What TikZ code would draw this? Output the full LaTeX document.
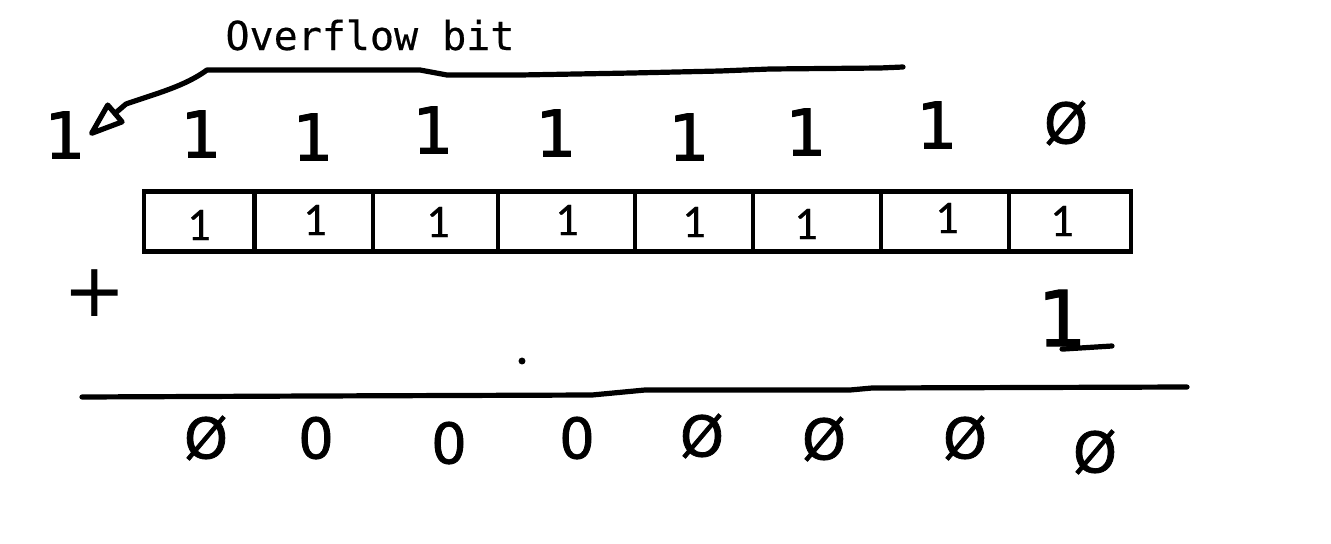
\documentclass[tikz,border=0pt]{standalone}
\usepackage{fontspec}
\setmainfont{DejaVu Sans}
\newfontfamily\handfont[FakeBold=1.4]{DejaVu Sans}
\newfontfamily\plusfont{DejaVu Sans}
\newfontfamily\boxfont[FakeBold=0.4]{Carlito}
\newfontfamily\ovmono[FakeBold=0.4]{DejaVu Sans Mono}
\usetikzlibrary{arrows.meta}
\begin{document}
\begin{tikzpicture}[x=0.75pt,y=-0.75pt,
  pen/.style={line width=3.9pt, line cap=round, line join=round},
  hone/.style={inner sep=0pt, font=\handfont\fontsize{48pt}{48pt}\selectfont},
  hzero/.style={inner sep=0pt, font=\handfont\fontsize{42pt}{42pt}\selectfont},
  cell/.style={draw, line width=3.3pt, minimum height=45pt, inner sep=0pt},
  bnum/.style={inner sep=0pt, font=\boxfont\fontsize{35pt}{35pt}\selectfont},
  label/.style={inner sep=0pt, font=\ovmono\fontsize{30pt}{30pt}\selectfont}]
\fill[white] (0,0) rectangle (1331,543);
\useasboundingbox (0,0) rectangle (1331,543);

% label
\node[label, anchor=base] (ovtxt) at (370,50) {Overflow bit};

% carry row
\node[hone] (t0) at (65,135) {1};
\node[hone] (t1) at (201,134) {1};
\node[hone] (t2) at (313,137) {1};
\node[hone] (t3) at (433,130) {1};
\node[hone] (t4) at (556,133) {1};
\node[hone] (t5) at (689,137) {1};
\node[hone] (t6) at (806,132) {1};
\node[hone] (t7) at (937,125) {1};
\node[hzero] (t8) at (1066,123) {Ø};

% register cells
\node[cell, minimum width=82.9pt] (c1) at (199.25,221.5) {};
\node[cell, minimum width=88.9pt] (c2) at (313.75,221.5) {};
\node[cell, minimum width=93.75pt] (c3) at (435.5,221.5) {};
\node[cell, minimum width=102.75pt] (c4) at (566.5,221.5) {};
\node[cell, minimum width=88.5pt] (c5) at (694,221.5) {};
\node[cell, minimum width=96pt] (c6) at (817,221.5) {};
\node[cell, minimum width=96pt] (c7) at (945,221.5) {};
\node[cell, minimum width=91.5pt] (c8) at (1070,221.5) {};

\node[bnum] (n1) at (199,225) {1};
\node[bnum] (n2) at (315,220) {1};
\node[bnum] (n3) at (438,222) {1};
\node[bnum] (n4) at (567,220) {1};
\node[bnum] (n5) at (694,222) {1};
\node[bnum] (n6) at (806,224) {1};
\node[bnum] (n7) at (947,218) {1};
\node[bnum] (n8) at (1062,221) {1};

% plus and addend
\node[inner sep=0pt, font=\plusfont\fontsize{56pt}{56pt}\selectfont] (plus) at (95,293) {+};
\node[inner sep=0pt, font=\handfont\fontsize{58pt}{58pt}\selectfont] (a1) at (1062,318) {1};
\coordinate (ulEnd) at (1112,346);
\draw[pen] ([yshift=-2pt]a1.south) -- (ulEnd);

% stray dot
\fill (522,361) circle[radius=2.6pt];

% sum line
\coordinate (s0) at (82,397);
\coordinate (s1) at (313,396);
\coordinate (s2) at (592,395);
\coordinate (s3) at (645,390);
\coordinate (s4) at (850,390);
\coordinate (s5) at (872,388);
\coordinate (s6) at (1187,387);
\draw[pen] (s0) -- (s1) -- (s2) -- (s3) -- (s4) -- (s5) -- (s6);

% result row
\node[hzero] (r1) at (206,438) {Ø};
\node[hzero] (r2) at (316,438) {0};
\node[hzero] (r3) at (449,443) {0};
\node[hzero] (r4) at (577,438) {0};
\node[hzero] (r5) at (702,436) {Ø};
\node[hzero] (r6) at (824,439) {Ø};
\node[hzero] (r7) at (965,438) {Ø};
\node[hzero] (r8) at (1095,452) {Ø};

% overflow pointer
\coordinate (p0) at (903,67);
\coordinate (p1) at (880,68);
\coordinate (p2) at (770,69);
\coordinate (p3) at (720,71);
\coordinate (p4) at (632,73);
\coordinate (p5) at (520,75);
\coordinate (p6) at (447,75);
\coordinate (p7) at (420,70);
\coordinate (p8) at (207,70);
\coordinate (p9) at (126,104);
\draw[pen, -{Triangle[open, round, length=31pt, width=21pt]}]
  (p0) -- (p1) -- (p2) -- (p3) -- (p4) -- (p5) -- (p6) -- (p7) -- (p8)
  .. controls (185,86) and (158,93) .. (p9) -- ([xshift=3pt]t0.east);
\end{tikzpicture}
\end{document}
